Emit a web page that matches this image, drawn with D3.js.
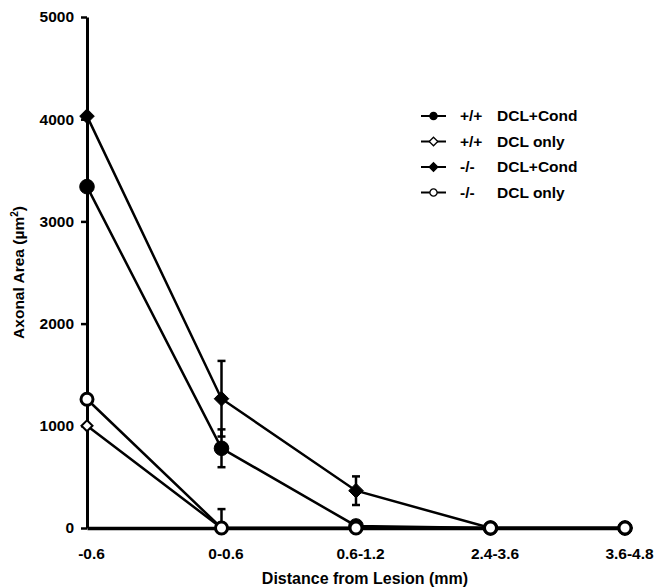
<!DOCTYPE html>
<html>
<head>
<meta charset="utf-8">
<script src="https://cdn.jsdelivr.net/npm/d3@7"></script>
<style>
  body { margin: 0; background: #fff; }
  text { font-family: "Liberation Sans", Arial, sans-serif; font-weight: bold; fill: #000; }
</style>
</head>
<body>
<svg id="chart"></svg>
<script>
// categories along the x axis
const distances = ["-0.6", "0-0.6", "0.6-1.2", "2.4-3.6", "3.6-4.8"];
const yTicks = [0, 1000, 2000, 3000, 4000, 5000];

// series values (axonal area, um^2) and error bars
const wtCond = [3340, 780, 20, 0, 0];
const wtCondErr = [0, 185, 0, 0, 0];
const wtOnly = [1000, 0, 0, 0, 0];
const wtOnlyErr = [0, 0, 0, 0, 0];
const koCond = [4030, 1265, 365, 0, 0];
const koCondErr = [0, 370, 140, 0, 0];
const koOnly = [1260, 0, 0, 0, 0];
const koOnlyErr = [0, 185, 0, 0, 0];

const series = [
  {geno: "+/+", label: "DCL+Cond", values: wtCond, err: wtCondErr, shape: "circle", fill: "#000"},
  {geno: "+/+", label: "DCL only", values: wtOnly, err: wtOnlyErr, shape: "diamond", fill: "#fff"},
  {geno: "-/-", label: "DCL+Cond", values: koCond, err: koCondErr, shape: "diamond", fill: "#000"},
  {geno: "-/-", label: "DCL only", values: koOnly, err: koOnlyErr, shape: "circle", fill: "#fff"}
];

const width = 658, height = 587;
const margin = {top: 17, right: 33, bottom: 59, left: 87};

const svg = d3.select("#chart")
    .attr("width", width)
    .attr("height", height);

const x = d3.scalePoint()
    .domain(distances)
    .range([margin.left, width - margin.right]);

const y = d3.scaleLinear()
    .domain([0, 5000])
    .range([height - margin.bottom, margin.top]);

// y axis
const yAxisG = svg.append("g")
    .attr("transform", `translate(${margin.left},0)`)
    .call(d3.axisLeft(y).tickValues(yTicks).tickFormat(d3.format("d"))
      .tickSize(6).tickPadding(7).tickSizeOuter(0));
yAxisG.select(".domain").attr("stroke-width", 3);
yAxisG.selectAll(".tick line").attr("stroke-width", 2.5);
yAxisG.selectAll(".tick text").attr("font-size", 15.5).attr("font-weight", "bold");

// x axis
const xAxisG = svg.append("g")
    .attr("transform", `translate(0,${height - margin.bottom})`)
    .call(d3.axisBottom(x).tickSize(0).tickPadding(20).tickSizeOuter(0));
xAxisG.select(".domain").attr("stroke-width", 3.5);
xAxisG.selectAll(".tick text").attr("font-size", 15.5).attr("font-weight", "bold").attr("dx", 4);

// axis titles
const yTitle = svg.append("text")
    .attr("transform", `translate(24,${y(2500)}) rotate(-90)`)
    .attr("text-anchor", "middle")
    .attr("font-size", 15.5);
yTitle.append("tspan").text("Axonal Area (\u00b5m");
yTitle.append("tspan").attr("font-size", 10).attr("dy", -6).text("2");
yTitle.append("tspan").attr("dy", 6).text(")");

svg.append("text")
    .attr("x", 365)
    .attr("y", 584)
    .attr("text-anchor", "middle")
    .attr("font-size", 16)
    .text("Distance from Lesion (mm)");

const line = d3.line()
    .x((d, i) => x(distances[i]))
    .y(d => y(d));

const symbolPath = (shape, r) => {
  if (shape === "circle") return d3.symbol(d3.symbolCircle, Math.PI * r * r)();
  const p = d3.path();
  p.moveTo(0, -r); p.lineTo(r, 0); p.lineTo(0, r); p.lineTo(-r, 0); p.closePath();
  return p.toString();
};

// lines
svg.selectAll(".series-line")
    .data(series)
    .join("path")
    .attr("class", "series-line")
    .attr("fill", "none")
    .attr("stroke", "#000")
    .attr("stroke-width", 2.5)
    .attr("d", d => line(d.values));

// error bars
series.forEach(s => {
  s.values.forEach((v, i) => {
    const e = s.err[i];
    if (!e) return;
    const cx = x(distances[i]);
    const g = svg.append("g").attr("stroke", "#000").attr("stroke-width", 2.5);
    g.append("line").attr("x1", cx).attr("x2", cx).attr("y1", y(v + e)).attr("y2", y(Math.max(0, v - e)));
    g.append("line").attr("x1", cx - 4).attr("x2", cx + 4).attr("y1", y(v + e)).attr("y2", y(v + e));
    if (v - e > 0)
      g.append("line").attr("x1", cx - 4).attr("x2", cx + 4).attr("y1", y(v - e)).attr("y2", y(v - e));
  });
});

// marker sizes per series
const markerSize = s => s.fill === "#000" ? 7.3 : (s.shape === "circle" ? 6 : 5.5);
const markerStroke = s => s.fill === "#000" ? 1 : (s.shape === "circle" ? 3 : 2);

// markers: filled series first so open markers sit on top at zero
const order = [series[0], series[2], series[1], series[3]];
order.forEach(s => {
  svg.selectAll(null)
      .data(s.values)
      .join("path")
      .attr("transform", (d, i) => `translate(${x(distances[i])},${y(d)})`)
      .attr("d", symbolPath(s.shape, markerSize(s)))
      .attr("fill", s.fill)
      .attr("stroke", "#000")
      .attr("stroke-width", markerStroke(s));
});

// legend
const legend = svg.append("g").attr("transform", "translate(421,116)");
const rows = legend.selectAll("g")
    .data(series)
    .join("g")
    .attr("transform", (d, i) => `translate(0,${i * 25.5})`);
rows.append("line")
    .attr("x1", 0).attr("x2", 25)
    .attr("stroke", "#000").attr("stroke-width", 2);
rows.append("path")
    .attr("transform", "translate(12.5,0)")
    .attr("d", d => symbolPath(d.shape, d.shape === "circle" ? 3.6 : 4.3))
    .attr("fill", d => d.fill)
    .attr("stroke", "#000")
    .attr("stroke-width", 1.3);
rows.append("text")
    .attr("x", 39).attr("dy", "0.35em")
    .attr("font-size", 15.5)
    .text(d => d.geno);
rows.append("text")
    .attr("x", 76).attr("dy", "0.35em")
    .attr("font-size", 15.5)
    .text(d => d.label);
</script>
</body>
</html>
